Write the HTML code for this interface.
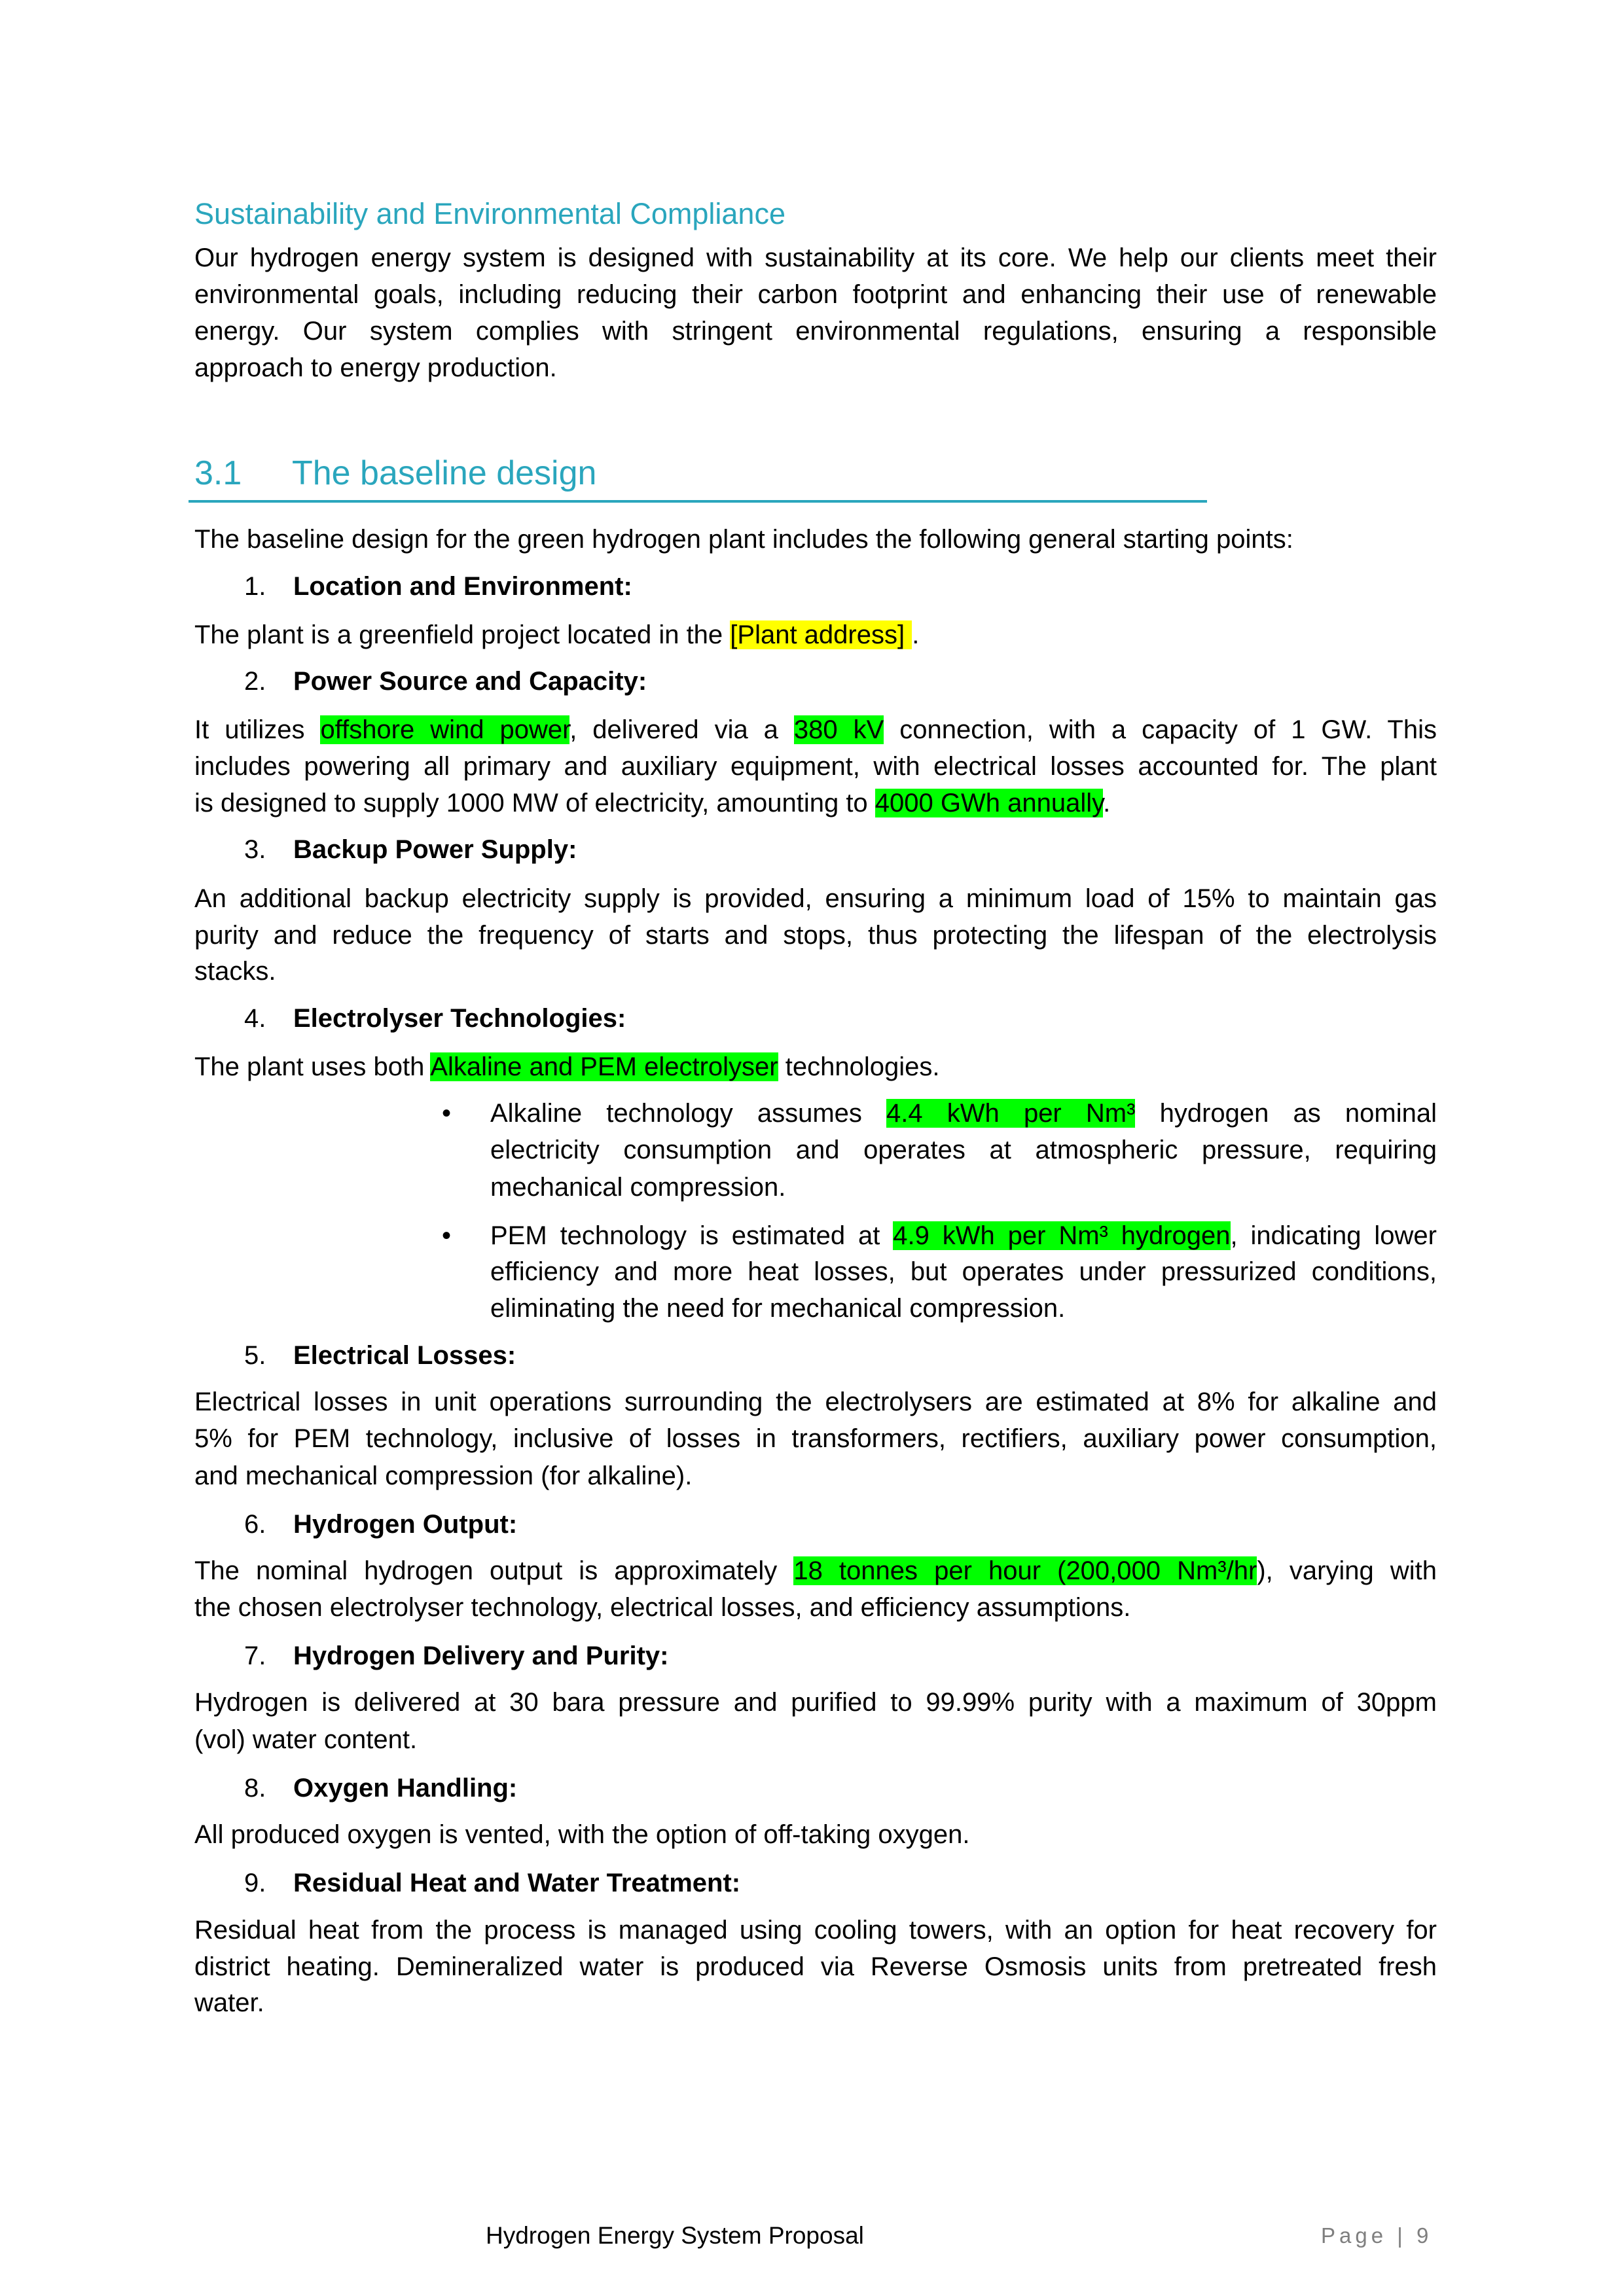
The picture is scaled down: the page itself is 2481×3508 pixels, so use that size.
<!DOCTYPE html>
<html><head><meta charset="utf-8"><style>
body{margin:0;background:#fff;}
#p{position:relative;width:2481px;height:3508px;overflow:hidden;font-family:"Liberation Sans",sans-serif;font-size:40px;color:#000;}
.l{position:absolute;left:297px;width:1898px;line-height:56px;white-space:nowrap;}
.j{text-align:justify;text-align-last:justify;white-space:normal;}
.b{left:749px;width:1446px;}
.h{color:#2aa6bd;}
.g{background:#00ff00;}
.y{background:#ffff00;}
.n{position:absolute;left:373px;line-height:56px;}
.t{position:absolute;left:448px;line-height:56px;font-weight:bold;}
.dot{position:absolute;left:675px;line-height:56px;}
</style></head><body><div id="p">
<div class="l h" style="top:299px;font-size:45px">Sustainability and Environmental Compliance</div>
<div class="l j" style="top:366px">Our hydrogen energy system is designed with sustainability at its core. We help our clients meet their</div>
<div class="l j" style="top:422px">environmental goals, including reducing their carbon footprint and enhancing their use of renewable</div>
<div class="l j" style="top:478px">energy. Our system complies with stringent environmental regulations, ensuring a responsible</div>
<div class="l" style="top:534px">approach to energy production.</div>

<div class="l h" style="top:691px;font-size:52px;line-height:64px">3.1</div>
<div class="l h" style="top:691px;left:446px;font-size:52px;line-height:64px">The baseline design</div>
<div style="position:absolute;left:288px;top:764px;width:1556px;height:4px;background:#2aa6bd"></div>

<div class="l" style="top:796px">The baseline design for the green hydrogen plant includes the following general starting points:</div>
<div class="n" style="top:868px">1.</div><div class="t" style="top:868px">Location and Environment:</div>
<div class="l" style="top:942px">The plant is a greenfield project located in the <span class="y">[Plant address] </span>.</div>
<div class="n" style="top:1013px">2.</div><div class="t" style="top:1013px">Power Source and Capacity:</div>
<div class="l j" style="top:1087px">It utilizes <span class="g">offshore wind power</span>, delivered via a <span class="g">380 kV</span> connection, with a capacity of 1 GW. This</div>
<div class="l j" style="top:1143px">includes powering all primary and auxiliary equipment, with electrical losses accounted for. The plant</div>
<div class="l" style="top:1199px">is designed to supply 1000 MW of electricity, amounting to <span class="g">4000 GWh annually</span>.</div>
<div class="n" style="top:1270px">3.</div><div class="t" style="top:1270px">Backup Power Supply:</div>
<div class="l j" style="top:1345px">An additional backup electricity supply is provided, ensuring a minimum load of 15% to maintain gas</div>
<div class="l j" style="top:1401px">purity and reduce the frequency of starts and stops, thus protecting the lifespan of the electrolysis</div>
<div class="l" style="top:1456px">stacks.</div>
<div class="n" style="top:1528px">4.</div><div class="t" style="top:1528px">Electrolyser Technologies:</div>
<div class="l" style="top:1602px">The plant uses both <span class="g">Alkaline and PEM electrolyser</span> technologies.</div>
<div class="dot" style="top:1673px">•</div>
<div class="l j b" style="top:1673px">Alkaline technology assumes <span class="g">4.4 kWh per Nm³</span> hydrogen as nominal</div>
<div class="l j b" style="top:1729px">electricity consumption and operates at atmospheric pressure, requiring</div>
<div class="l b" style="top:1786px">mechanical compression.</div>
<div class="dot" style="top:1860px">•</div>
<div class="l j b" style="top:1860px">PEM technology is estimated at <span class="g">4.9 kWh per Nm³ hydrogen</span>, indicating lower</div>
<div class="l j b" style="top:1915px">efficiency and more heat losses, but operates under pressurized conditions,</div>
<div class="l b" style="top:1971px">eliminating the need for mechanical compression.</div>
<div class="n" style="top:2043px">5.</div><div class="t" style="top:2043px">Electrical Losses:</div>
<div class="l j" style="top:2114px">Electrical losses in unit operations surrounding the electrolysers are estimated at 8% for alkaline and</div>
<div class="l j" style="top:2170px">5% for PEM technology, inclusive of losses in transformers, rectifiers, auxiliary power consumption,</div>
<div class="l" style="top:2227px">and mechanical compression (for alkaline).</div>
<div class="n" style="top:2301px">6.</div><div class="t" style="top:2301px">Hydrogen Output:</div>
<div class="l j" style="top:2372px">The nominal hydrogen output is approximately <span class="g">18 tonnes per hour (200,000 Nm³/hr</span>), varying with</div>
<div class="l" style="top:2428px">the chosen electrolyser technology, electrical losses, and efficiency assumptions.</div>
<div class="n" style="top:2502px">7.</div><div class="t" style="top:2502px">Hydrogen Delivery and Purity:</div>
<div class="l j" style="top:2573px">Hydrogen is delivered at 30 bara pressure and purified to 99.99% purity with a maximum of 30ppm</div>
<div class="l" style="top:2630px">(vol) water content.</div>
<div class="n" style="top:2704px">8.</div><div class="t" style="top:2704px">Oxygen Handling:</div>
<div class="l" style="top:2775px">All produced oxygen is vented, with the option of off-taking oxygen.</div>
<div class="n" style="top:2849px">9.</div><div class="t" style="top:2849px">Residual Heat and Water Treatment:</div>
<div class="l j" style="top:2921px">Residual heat from the process is managed using cooling towers, with an option for heat recovery for</div>
<div class="l j" style="top:2977px">district heating. Demineralized water is produced via Reverse Osmosis units from pretreated fresh</div>
<div class="l" style="top:3032px">water.</div>

<div class="l" style="top:3388px;left:742px;font-size:37px">Hydrogen Energy System Proposal</div>
<div class="l" style="top:3388px;left:2018px;font-size:33px;color:#7f7f7f;letter-spacing:6px">Page | 9</div>
</div></body></html>
